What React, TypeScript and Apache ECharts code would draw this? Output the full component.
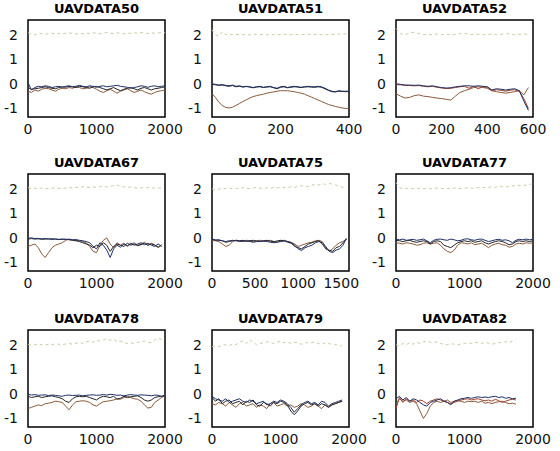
import React, { useEffect, useRef } from "react";
import * as echarts from "echarts";

const titles = ["UAVDATA50", "UAVDATA51", "UAVDATA52", "UAVDATA67", "UAVDATA75", "UAVDATA77", "UAVDATA78", "UAVDATA79", "UAVDATA82"];
const xMaxes = [2000, 400, 600, 2000, 1590, 2000, 2000, 2000, 2000];
const xTickLabels = [
  [0, 1000, 2000], [0, 200, 400], [0, 200, 400, 600],
  [0, 1000, 2000], [0, 500, 1000, 1500], [0, 1000, 2000],
  [0, 1000, 2000], [0, 1000, 2000], [0, 1000, 2000],
];
const yTickLabels = [-1, 0, 1, 2];
const sampleSteps = [50, 10, 20, 50, 40, 50, 50, 50, 50];

// UAVDATA50
const top50 = [2.08, 2.02, 2.0, 2.03, 2.05, 2.02, 2.04, 2.06, 2.03, 2.05, 2.04, 2.06, 2.08, 2.05, 2.03, 2.06, 2.04, 2.07, 2.05, 2.08, 2.06, 2.04, 2.07, 2.09, 2.06, 2.05, 2.08, 2.06, 2.04, 2.07, 2.05, 2.08, 2.06, 2.09, 2.07, 2.05, 2.08, 2.06, 2.07, 2.09, 2.08];
const blue50 = [0.05, -0.25, -0.15, -0.1, -0.12, -0.08, -0.1, -0.15, -0.12, -0.1, -0.14, -0.1, -0.08, -0.12, -0.1, -0.06, -0.1, -0.12, -0.08, -0.1, -0.14, -0.1, -0.08, -0.12, -0.1, -0.08, -0.06, -0.1, -0.12, -0.14, -0.18, -0.15, -0.12, -0.08, -0.1, -0.14, -0.1, -0.08, -0.12, -0.1, -0.08];
const brown50 = [-0.3, -0.35, -0.25, -0.3, -0.22, -0.18, -0.2, -0.25, -0.3, -0.22, -0.18, -0.2, -0.15, -0.18, -0.12, -0.15, -0.2, -0.18, -0.12, -0.15, -0.22, -0.3, -0.35, -0.28, -0.22, -0.3, -0.38, -0.3, -0.25, -0.2, -0.28, -0.35, -0.3, -0.25, -0.32, -0.38, -0.42, -0.35, -0.3, -0.28, -0.25];
const black50 = [-0.15, -0.22, -0.2, -0.18, -0.15, -0.12, -0.15, -0.18, -0.2, -0.15, -0.12, -0.14, -0.1, -0.12, -0.15, -0.1, -0.12, -0.15, -0.18, -0.12, -0.1, -0.15, -0.2, -0.25, -0.2, -0.15, -0.22, -0.28, -0.22, -0.18, -0.15, -0.2, -0.25, -0.18, -0.15, -0.2, -0.25, -0.2, -0.18, -0.15, -0.12];

// UAVDATA51
const top51 = [2.2, 2.0, 1.95, 2.12, 2.0, 2.02, 1.99, 2.0, 2.02, 2.0, 2.01, 1.99, 2.0, 2.02, 2.0, 2.01, 2.0, 2.02, 2.0, 2.01, 2.0, 2.02, 2.01, 2.0, 2.02, 2.01, 2.0, 2.01, 2.02, 2.0, 2.01, 2.02, 2.0, 2.01, 2.0, 2.02, 2.01, 2.03, 2.02, 2.04, 2.02];
const blue51 = [0.0, -0.02, -0.05, -0.03, -0.06, -0.08, -0.05, -0.1, -0.08, -0.12, -0.1, -0.12, -0.15, -0.12, -0.1, -0.14, -0.12, -0.1, -0.15, -0.18, -0.12, -0.1, -0.15, -0.12, -0.1, -0.12, -0.14, -0.12, -0.1, -0.12, -0.12, -0.1, -0.12, -0.18, -0.25, -0.3, -0.32, -0.28, -0.3, -0.3, -0.3];
const brown51 = [-0.4, -0.55, -0.75, -0.88, -0.96, -0.98, -0.95, -0.88, -0.8, -0.72, -0.65, -0.58, -0.52, -0.48, -0.45, -0.42, -0.38, -0.35, -0.33, -0.3, -0.28, -0.28, -0.28, -0.3, -0.32, -0.35, -0.38, -0.42, -0.48, -0.54, -0.6, -0.66, -0.72, -0.78, -0.84, -0.88, -0.92, -0.95, -0.98, -1.0, -1.01];
const black51 = [-0.02, -0.04, -0.06, -0.05, -0.08, -0.1, -0.07, -0.12, -0.1, -0.13, -0.11, -0.13, -0.16, -0.13, -0.12, -0.15, -0.13, -0.12, -0.16, -0.2, -0.14, -0.12, -0.16, -0.14, -0.12, -0.13, -0.15, -0.13, -0.12, -0.13, -0.14, -0.12, -0.14, -0.2, -0.27, -0.32, -0.33, -0.3, -0.31, -0.32, -0.31];

// UAVDATA52
const top52 = [2.25, 2.05, 2.0, 2.08, 2.1, 2.05, 2.0, 2.02, 2.0, 2.03, 2.0, 2.02, 2.0, 2.01, 2.04, 2.06, 2.03, 2.0, 2.02, 2.0, 2.01, 2.03, 2.0, 2.02, 2.04, 2.03, 2.0, 2.02, 2.03, 2.02];
const blue52 = [0.0, -0.02, -0.05, -0.05, -0.06, -0.05, -0.08, -0.1, -0.08, -0.12, -0.15, -0.17, -0.16, -0.12, -0.1, -0.08, -0.08, -0.1, -0.08, -0.1, -0.12, -0.25, -0.2, -0.22, -0.25, -0.22, -0.2, -0.28, -0.7, -1.08];
const brown52 = [-0.4, -0.5, -0.58, -0.55, -0.48, -0.45, -0.5, -0.52, -0.55, -0.58, -0.6, -0.63, -0.66, -0.5, -0.35, -0.28, -0.22, -0.15, -0.12, -0.15, -0.18, -0.28, -0.32, -0.35, -0.38, -0.35, -0.32, -0.28, -0.45, -0.15];
const red52 = [-0.03, -0.04, -0.06, -0.07, -0.08, -0.07, -0.1, -0.12, -0.1, -0.14, -0.17, -0.19, -0.18, -0.15, -0.12, -0.1, -0.18, -0.1, -0.2, -0.12, -0.14, -0.28, -0.24, -0.26, -0.3, -0.26, -0.24, -0.3, -0.6, -1.0];

// UAVDATA67
const top67 = [2.05, 2.0, 2.02, 2.0, 2.03, 2.01, 2.0, 2.02, 2.04, 2.02, 2.0, 2.03, 2.05, 2.03, 2.06, 2.04, 2.08, 2.06, 2.05, 2.07, 2.06, 2.08, 2.1, 2.07, 2.1, 2.12, 2.15, 2.1, 2.08, 2.05, 2.07, 2.04, 2.02, 2.04, 2.03, 2.05, 2.02, 2.04, 2.03, 2.02];
const blue67 = [-0.02, 0.0, -0.03, -0.02, -0.04, -0.03, -0.05, -0.04, -0.05, -0.06, -0.05, -0.07, -0.06, -0.08, -0.07, -0.1, -0.12, -0.15, -0.2, -0.35, -0.45, -0.2, -0.3, -0.5, -0.8, -0.45, -0.3, -0.38, -0.25, -0.32, -0.22, -0.3, -0.25, -0.2, -0.28, -0.22, -0.3, -0.35, -0.25, -0.35];
const brown67 = [-0.35, -0.3, -0.25, -0.4, -0.65, -0.8, -0.6, -0.4, -0.3, -0.25, -0.2, -0.1, -0.05, -0.08, -0.1, -0.12, -0.15, -0.2, -0.35, -0.55, -0.6, -0.3, -0.1, 0.0, -0.25, -0.4, -0.2, -0.3, -0.22, -0.35, -0.25, -0.2, -0.3, -0.25, -0.18, -0.3, -0.22, -0.28, -0.4, -0.3];
const black67 = [-0.05, -0.03, -0.05, -0.04, -0.06, -0.05, -0.04, -0.06, -0.05, -0.07, -0.06, -0.05, -0.08, -0.1, -0.12, -0.15, -0.2, -0.25, -0.3, -0.4, -0.3, -0.35, -0.2, -0.3, -0.55, -0.35, -0.25, -0.3, -0.35, -0.22, -0.3, -0.25, -0.32, -0.28, -0.22, -0.3, -0.25, -0.3, -0.38, -0.28];

// UAVDATA75
const top75 = [2.0, 1.95, 1.98, 2.02, 2.0, 2.03, 2.0, 2.02, 2.0, 2.04, 2.02, 2.0, 2.03, 2.05, 2.02, 2.0, 2.04, 2.02, 2.05, 2.03, 2.06, 2.04, 2.05, 2.08, 2.05, 2.1, 2.12, 2.08, 2.1, 2.15, 2.18, 2.15, 2.2, 2.18, 2.22, 2.18, 2.15, 2.1, 2.05, 2.08];
const blue75 = [-0.05, -0.08, -0.1, -0.12, -0.15, -0.12, -0.1, -0.12, -0.15, -0.13, -0.12, -0.15, -0.18, -0.15, -0.14, -0.12, -0.15, -0.18, -0.2, -0.17, -0.15, -0.13, -0.15, -0.2, -0.3, -0.45, -0.52, -0.4, -0.35, -0.3, -0.2, -0.15, -0.2, -0.35, -0.55, -0.6, -0.5, -0.45, -0.3, -0.02];
const brown75 = [-0.1, -0.12, -0.15, -0.25, -0.35, -0.3, -0.15, -0.1, -0.12, -0.15, -0.1, -0.12, -0.15, -0.12, -0.1, -0.15, -0.12, -0.1, -0.15, -0.18, -0.12, -0.1, -0.15, -0.18, -0.25, -0.35, -0.3, -0.25, -0.2, -0.18, -0.12, -0.1, -0.15, -0.4, -0.55, -0.45, -0.3, -0.2, -0.15, -0.05];
const black75 = [-0.05, -0.1, -0.08, -0.12, -0.18, -0.15, -0.12, -0.1, -0.12, -0.1, -0.15, -0.12, -0.1, -0.13, -0.15, -0.12, -0.1, -0.14, -0.16, -0.12, -0.1, -0.12, -0.18, -0.22, -0.35, -0.4, -0.45, -0.35, -0.25, -0.2, -0.15, -0.12, -0.25, -0.45, -0.5, -0.55, -0.4, -0.35, -0.2, -0.05];

// UAVDATA77
const top77 = [2.25, 2.05, 2.0, 2.02, 2.0, 2.01, 2.0, 2.03, 2.0, 2.02, 2.0, 2.01, 2.03, 2.0, 2.02, 2.01, 2.0, 2.03, 2.02, 2.0, 2.02, 2.04, 2.02, 2.03, 2.05, 2.03, 2.06, 2.05, 2.08, 2.06, 2.1, 2.08, 2.06, 2.1, 2.12, 2.1, 2.14, 2.12, 2.15, 2.18, 2.2];
const blue77 = [-0.05, -0.08, -0.05, -0.1, -0.08, -0.06, -0.1, -0.08, -0.05, -0.12, -0.2, -0.1, -0.06, -0.05, -0.08, -0.1, -0.05, -0.08, -0.12, -0.1, -0.05, -0.04, -0.08, -0.1, -0.06, -0.05, -0.1, -0.15, -0.12, -0.08, -0.06, -0.1, -0.08, -0.12, -0.2, -0.1, -0.06, -0.08, -0.05, -0.08, -0.06];
const brown77 = [-0.2, -0.22, -0.25, -0.2, -0.22, -0.25, -0.3, -0.28, -0.22, -0.2, -0.25, -0.22, -0.2, -0.3, -0.45, -0.55, -0.6, -0.5, -0.3, -0.2, -0.22, -0.25, -0.2, -0.28, -0.25, -0.22, -0.3, -0.4, -0.3, -0.25, -0.22, -0.28, -0.3, -0.38, -0.35, -0.25, -0.22, -0.25, -0.2, -0.22, -0.2];
const black77 = [-0.1, -0.12, -0.15, -0.12, -0.1, -0.15, -0.18, -0.15, -0.12, -0.15, -0.25, -0.15, -0.12, -0.15, -0.3, -0.35, -0.4, -0.3, -0.2, -0.15, -0.12, -0.15, -0.12, -0.18, -0.15, -0.12, -0.2, -0.25, -0.2, -0.15, -0.12, -0.15, -0.2, -0.28, -0.25, -0.15, -0.12, -0.15, -0.12, -0.15, -0.12];

// UAVDATA78
const top78 = [2.02, 1.98, 2.0, 2.03, 2.0, 1.98, 2.02, 2.0, 2.04, 2.02, 2.0, 2.03, 2.05, 2.02, 2.06, 2.1, 2.05, 2.12, 2.15, 2.1, 2.18, 2.15, 2.2, 2.25, 2.18, 2.22, 2.12, 2.15, 2.1, 2.05, 2.08, 2.05, 2.1, 2.12, 2.15, 2.1, 2.08, 2.2, 2.25, 2.22, 2.25];
const blue78 = [-0.02, -0.05, -0.03, -0.06, -0.05, -0.04, -0.07, -0.05, -0.06, -0.08, -0.1, -0.06, -0.05, -0.07, -0.06, -0.05, -0.08, -0.06, -0.05, -0.04, -0.06, -0.05, -0.03, -0.05, -0.02, -0.03, -0.06, -0.05, -0.08, -0.05, -0.03, -0.05, -0.06, -0.04, -0.05, -0.06, -0.08, -0.05, -0.06, -0.1, -0.08];
const brown78 = [-0.6, -0.55, -0.5, -0.45, -0.48, -0.4, -0.38, -0.35, -0.3, -0.32, -0.35, -0.5, -0.65, -0.45, -0.32, -0.3, -0.28, -0.3, -0.35, -0.45, -0.5, -0.4, -0.32, -0.3, -0.28, -0.25, -0.2, -0.22, -0.15, -0.1, -0.15, -0.2, -0.22, -0.3, -0.45, -0.58, -0.55, -0.35, -0.25, -0.15, -0.08];
const black78 = [-0.1, -0.15, -0.12, -0.1, -0.15, -0.12, -0.1, -0.08, -0.12, -0.15, -0.2, -0.3, -0.35, -0.2, -0.12, -0.1, -0.12, -0.1, -0.15, -0.2, -0.25, -0.15, -0.1, -0.12, -0.15, -0.1, -0.22, -0.18, -0.1, -0.15, -0.12, -0.1, -0.08, -0.15, -0.25, -0.3, -0.25, -0.15, -0.12, -0.1, -0.05];

// UAVDATA79
const top79 = [1.92, 1.95, 1.93, 1.98, 2.0, 1.96, 2.02, 2.0, 2.1, 2.15, 2.05, 2.2, 2.1, 2.0, 2.05, 2.08, 2.12, 2.1, 2.05, 2.1, 2.15, 2.08, 2.12, 2.05, 2.1, 2.08, 2.02, 2.05, 2.1, 2.08, 2.12, 2.05, 2.02, 2.08, 2.05, 2.02, 2.0, 1.98, 1.95];
const blue79 = [-0.1, -0.2, -0.25, -0.3, -0.2, -0.35, -0.3, -0.25, -0.2, -0.3, -0.35, -0.25, -0.3, -0.4, -0.35, -0.3, -0.45, -0.4, -0.3, -0.35, -0.25, -0.3, -0.4, -0.55, -0.75, -0.6, -0.45, -0.35, -0.3, -0.4, -0.35, -0.45, -0.3, -0.35, -0.5, -0.4, -0.35, -0.3, -0.25];
const brown79 = [-0.4, -0.45, -0.35, -0.4, -0.5, -0.35, -0.45, -0.55, -0.4, -0.35, -0.5, -0.45, -0.4, -0.55, -0.45, -0.5, -0.6, -0.4, -0.35, -0.5, -0.45, -0.4, -0.5, -0.45, -0.55, -0.5, -0.4, -0.45, -0.55, -0.5, -0.4, -0.5, -0.6, -0.45, -0.55, -0.45, -0.4, -0.35, -0.3];
const black79 = [-0.15, -0.3, -0.2, -0.4, -0.3, -0.25, -0.4, -0.35, -0.3, -0.45, -0.3, -0.35, -0.25, -0.45, -0.5, -0.35, -0.4, -0.5, -0.35, -0.4, -0.3, -0.35, -0.45, -0.7, -0.85, -0.7, -0.5, -0.4, -0.35, -0.45, -0.4, -0.5, -0.4, -0.45, -0.55, -0.45, -0.4, -0.35, -0.3];

// UAVDATA82
const top82 = [2.0, 1.95, 2.05, 2.0, 2.08, 2.02, 2.1, 2.05, 2.12, 2.15, 2.1, 2.08, 2.12, 2.05, 2.02, 2.0, 2.05, 2.02, 2.0, 2.03, 2.05, 2.08, 2.05, 2.1, 2.08, 2.05, 2.1, 2.06, 2.02, 2.05, 2.08, 2.1, 2.12, 2.08, 2.15, 2.2];
const blue82 = [-0.2, -0.1, -0.25, -0.15, -0.3, -0.2, -0.25, -0.35, -0.45, -0.5, -0.35, -0.3, -0.25, -0.2, -0.3, -0.35, -0.45, -0.3, -0.25, -0.2, -0.18, -0.15, -0.18, -0.15, -0.12, -0.15, -0.13, -0.15, -0.12, -0.1, -0.15, -0.12, -0.18, -0.15, -0.2, -0.18];
const brown82 = [-0.4, -0.2, -0.3, -0.25, -0.35, -0.3, -0.4, -0.7, -1.0, -0.8, -0.5, -0.35, -0.3, -0.35, -0.3, -0.25, -0.35, -0.3, -0.28, -0.3, -0.35, -0.3, -0.32, -0.3, -0.35, -0.3, -0.38, -0.35, -0.4, -0.35, -0.32, -0.3, -0.35, -0.4, -0.38, -0.42];
const red82 = [-0.6, -0.15, -0.35, -0.2, -0.3, -0.25, -0.35, -0.25, -0.3, -0.4, -0.3, -0.25, -0.2, -0.25, -0.3, -0.35, -0.4, -0.35, -0.3, -0.25, -0.22, -0.2, -0.25, -0.22, -0.2, -0.25, -0.28, -0.25, -0.3, -0.22, -0.28, -0.35, -0.3, -0.25, -0.22, -0.25];

const panelSeries: number[][][] = [
  [top50, brown50, black50, blue50],
  [top51, brown51, black51, blue51],
  [top52, brown52, red52, blue52],
  [top67, brown67, black67, blue67],
  [top75, brown75, black75, blue75],
  [top77, brown77, black77, blue77],
  [top78, brown78, black78, blue78],
  [top79, brown79, black79, blue79],
  [top82, brown82, red82, blue82],
];

const lineColors = ["#cdc9a4", "#8a5a3a", "#262626", "#1f2f66"];
const redColor = "#a0402a";

const colLefts = [28, 212, 396];
const rowTops = [20, 174, 330];
const gridW = 137;
const gridH = 97;
const FONT = "DejaVu Sans";

export default function App() {
  const ref = useRef<HTMLDivElement>(null);
  useEffect(() => {
    if (!ref.current) return;
    const chart = echarts.init(ref.current, null, { renderer: "svg" });
    const grids: any[] = [];
    const xAxes: any[] = [];
    const yAxes: any[] = [];
    const titleArr: any[] = [];
    const series: any[] = [];
    for (let i = 0; i < 9; i++) {
      const left = colLefts[i % 3];
      const top = rowTops[Math.floor(i / 3)];
      grids.push({
        left, top, width: gridW, height: gridH,
        show: true, borderColor: "#000", borderWidth: 1.5, backgroundColor: "transparent",
      });
      titleArr.push({
        text: titles[i],
        left: left + gridW / 2,
        top: top - 18,
        textAlign: "center",
        padding: 0,
        textStyle: { fontFamily: FONT, fontWeight: "bold", fontSize: 13, color: "#000" },
      });
      xAxes.push({
        type: "value", gridIndex: i, min: 0, max: xMaxes[i],
        axisLine: { show: false }, axisTick: { show: false }, splitLine: { show: false },
        axisLabel: {
          customValues: xTickLabels[i], margin: 5, color: "#111",
          fontFamily: FONT, fontSize: 14, showMinLabel: true, showMaxLabel: true,
          formatter: (v: number) => String(v),
        },
      });
      yAxes.push({
        type: "value", gridIndex: i, min: -1.35, max: 2.6,
        axisLine: { show: false }, axisTick: { show: false }, splitLine: { show: false },
        axisLabel: {
          customValues: yTickLabels, margin: 10, color: "#111", fontFamily: FONT, fontSize: 14,
          formatter: (v: number) => String(v),
        },
      });
      const step = sampleSteps[i];
      panelSeries[i].forEach((ys, k) => {
        let color = lineColors[k];
        if (k === 2 && (i === 2 || i === 8)) color = redColor;
        series.push({
          type: "line",
          xAxisIndex: i,
          yAxisIndex: i,
          data: ys.map((v, j) => [j * step, v]),
          symbol: "none",
          showSymbol: false,
          silent: true,
          lineStyle: k === 0
            ? { color, width: 1, type: [3, 3] }
            : { color, width: 1 },
        });
      });
    }
    chart.setOption({
      animation: false,
      backgroundColor: "#fff",
      title: titleArr,
      grid: grids,
      xAxis: xAxes,
      yAxis: yAxes,
      series,
    });
    return () => chart.dispose();
  }, []);
  return (
    <div
      ref={ref}
      style={{ position: "fixed", left: 0, top: 0, width: 560, height: 451, background: "#fff" }}
    />
  );
}
